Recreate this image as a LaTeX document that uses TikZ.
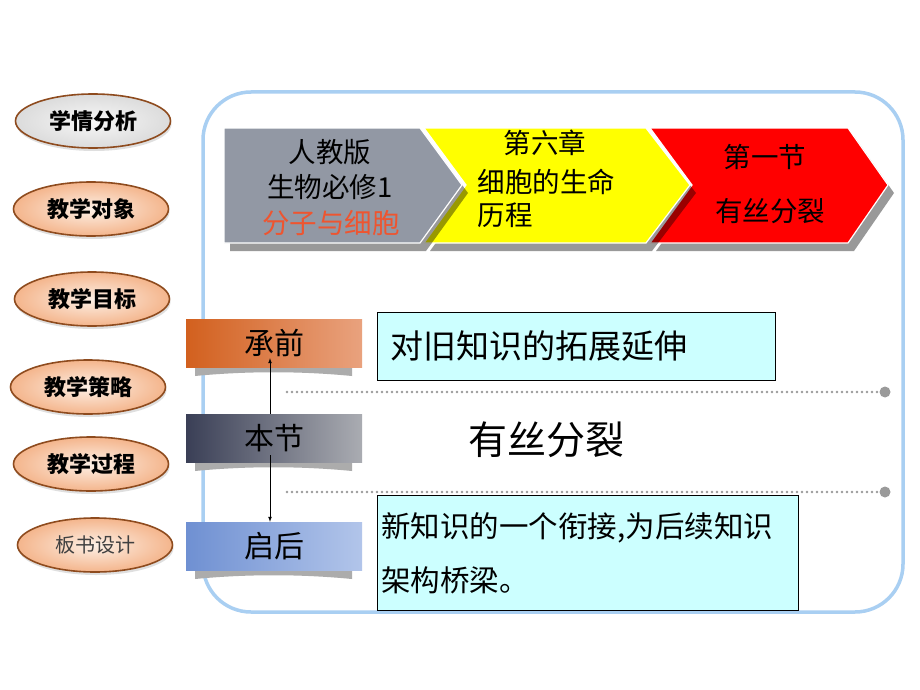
\documentclass[tikz,border=0pt]{standalone}
\usepackage{fontspec}
\newfontfamily\cjk{Noto Sans CJK SC}
\usetikzlibrary{shapes.geometric,shadows,arrows.meta}

\definecolor{frameblue}{HTML}{A9CFF2}
\definecolor{peach}{HTML}{F4B58C}
\definecolor{peachlight}{HTML}{FDF0E6}
\definecolor{ovalrim}{HTML}{8E4B1E}
\definecolor{chevgray}{HTML}{9298A4}
\definecolor{chevyellow}{HTML}{FFFF00}
\definecolor{chevred}{HTML}{FF0000}
\definecolor{boxcyan}{HTML}{CCFFFF}
\definecolor{redtext}{HTML}{EE5530}
\definecolor{dotgray}{HTML}{9A9A9A}
\definecolor{qianleft}{HTML}{D2601E}
\definecolor{qianright}{HTML}{E9A27E}
\definecolor{benleft}{HTML}{3A3F56}
\definecolor{benright}{HTML}{AAACB2}
\definecolor{houleft}{HTML}{6F90D2}
\definecolor{houright}{HTML}{B2C5EA}

\begin{document}
\begin{tikzpicture}[x=1pt,y=-1pt,
    menu/.style={ellipse,draw=ovalrim,line width=1.6pt,minimum width=155pt,minimum height=54pt,
                 inner color=peachlight,outer color=peach,
                 drop shadow={shadow xshift=1pt,shadow yshift=-3pt,opacity=0.25},
                 font=\cjk\bfseries\fontsize{22}{24}\selectfont},
    current menu/.style={menu,inner color=gray!6,outer color=gray!28},
    plain menu/.style={menu,font=\cjk\fontsize{20}{24}\selectfont,text=black!75},
    chevron/.style={draw=white,line width=1.2pt},
    chevshadow/.style={fill=black,opacity=0.4},
    chevtext/.style={font=\cjk\fontsize{27.5}{30}\selectfont,text=black},
    tag/.style={minimum width=176pt,minimum height=48pt,inner sep=0pt,
                font=\cjk\fontsize{30}{32}\selectfont,text=black},
    ribbon/.style={fill=gray!65},
    note/.style={draw=black,line width=0.8pt,fill=boxcyan,anchor=north west,align=left,
                 inner xsep=4pt,text=black},
    link/.style={-latex,line width=0.7pt},
    sep/.style={dotgray,line width=2.6pt,line cap=round,dash pattern=on 0pt off 5pt},
    dotend/.style={circle,fill=dotgray,minimum size=11pt,inner sep=0pt},
    frame/.style={draw=frameblue,line width=3.5pt,rounded corners=48pt}]

  \useasboundingbox (0,0) rectangle (920,690);
  \fill[white] (0,0) rectangle (920,690);

  % outer frame
  \draw[frame] (203,92) rectangle (903,612);

  % left menu
  \node[current menu] (xueqing) at (93,121) {学情分析};
  \node[menu] (duixiang) at (91,209) {教学对象};
  \node[menu] (mubiao) at (92,299) {教学目标};
  \node[menu] (celue) at (88,387) {教学策略};
  \node[menu] (guocheng) at (91,464) {教学过程};
  \node[plain menu] (banshu) at (95,545) {板书设计};

  % chevrons, back to front
  \fill[chevshadow] (656,136) -- (854,136) -- (894,193) -- (854,251) -- (656,251) -- (698,193) -- cycle;
  \draw[chevron,fill=chevred] (650,128) -- (848,128) -- (888,185) -- (848,243) -- (650,243) -- (692,185) -- cycle;
  \fill[chevshadow] (430,136) -- (652,136) -- (696,193) -- (652,251) -- (430,251) -- (472,193) -- cycle;
  \draw[chevron,fill=chevyellow] (424,128) -- (646,128) -- (690,185) -- (646,243) -- (424,243) -- (466,185) -- cycle;
  \fill[chevshadow] (230,136) -- (426,136) -- (468,193) -- (426,251) -- (230,251) -- cycle;
  \draw[chevron,fill=chevgray] (224,128) -- (420,128) -- (462,185) -- (420,243) -- (224,243) -- cycle;

  \node[chevtext] (edition) at (330,152) {人教版};
  \node[chevtext] (book) at (330,187) {生物必修1};
  \node[chevtext,text=redtext] (volume) at (331,223) {分子与细胞};
  \node[chevtext] (chapter) at (545,143) {第六章};
  \node[chevtext,anchor=west] (chaptitle) at (474,182) {细胞的生命};
  \node[chevtext,anchor=west] (chaptail) at (474,215) {历程};
  \node[chevtext] (section) at (765,157) {第一节};
  \node[chevtext] (secttitle) at (770,211) {有丝分裂};

  % left tags with ribbons
  \foreach \y in {367,462,570}
    \fill[ribbon] (195,\y) -- (352,\y) -- (352,\y+9) .. controls (300,\y+4) and (247,\y+4) .. (195,\y+9) -- cycle;
  \node[tag,left color=qianleft,right color=qianright] (chengqian) at (274,343) {承前};
  \node[tag,left color=benleft,right color=benright] (benjie) at (274,438) {本节};
  \node[tag,left color=houleft,right color=houright] (qihou) at (274,546) {启后};

  \draw[link] ([xshift=-4pt]benjie.north) -- ([xshift=-4pt,yshift=9pt]chengqian.south);
  \draw[link] ([xshift=-4pt,yshift=7pt]benjie.south) -- ([xshift=-4pt]qihou.north);

  % notes
  \node[note,minimum width=398pt,minimum height=68pt,text width=372pt,inner xsep=13pt,
        font=\cjk\fontsize{33}{36}\selectfont] (oldknow) at (377,312) {对旧知识的拓展延伸};
  \node[font=\cjk\fontsize{39}{42}\selectfont,text=black] (topic) at (546,440) {有丝分裂};
  \node[note,minimum width=421pt,minimum height=115pt,text width=413pt,
        font=\cjk\fontsize{29.5}{54}\selectfont] (newknow) at (377,495) {新知识的一个衔接,为后续知识\\架构桥梁。};

  % dotted separators
  \node[dotend] (enda) at (885,392) {};
  \node[dotend] (endb) at (885,492) {};
  \coordinate (starta) at (287,392);
  \coordinate (startb) at (287,492);
  \draw[sep] (starta) -- (enda);
  \draw[sep] (startb) -- (endb);
\end{tikzpicture}
\end{document}
